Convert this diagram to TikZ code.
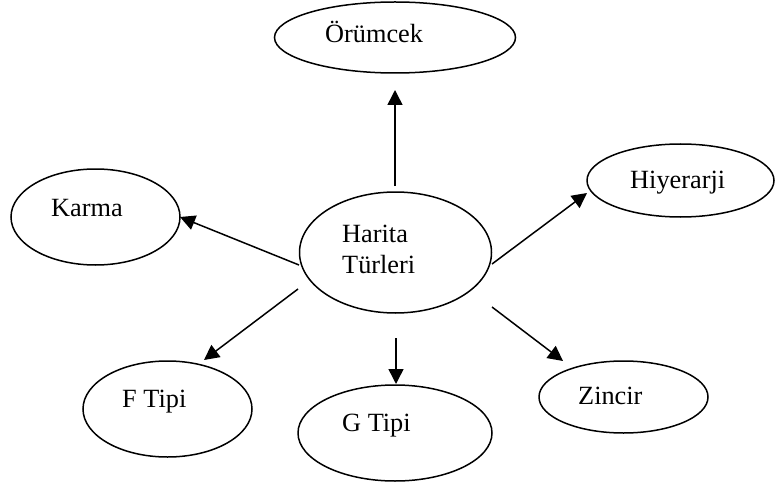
\documentclass[tikz,border=0pt]{standalone}
\usepackage{fontspec}
\setmainfont{Liberation Serif}
\usetikzlibrary{shapes.geometric,arrows.meta}
\begin{document}
\begin{tikzpicture}[x=1pt,y=-1pt,
  bubble/.style={draw,ellipse,line width=1.5pt,inner sep=0pt},
  caption/.style={anchor=base west,inner sep=0pt,align=left,
    font=\fontsize{26.3}{31}\selectfont},
  link/.style={line width=1.5pt,-{Triangle[length=15pt,width=15pt]}}]
\useasboundingbox (0,0) rectangle (775,489);

% ellipses
\node[bubble,minimum width=241pt,minimum height=71pt] (orum) at (395,37.5) {};
\node[bubble,minimum width=187pt,minimum height=73pt] (hiy) at (680.5,180.5) {};
\node[bubble,minimum width=169pt,minimum height=96pt] (kar) at (95.5,217) {};
\node[bubble,minimum width=192pt,minimum height=121pt] (har) at (395.5,252.5) {};
\node[bubble,minimum width=169pt,minimum height=96pt] (ftip) at (167.5,409) {};
\node[bubble,minimum width=194pt,minimum height=96pt] (gtip) at (395,433) {};
\node[bubble,minimum width=169pt,minimum height=72pt] (zin) at (623.5,397) {};

% labels (the base of a two-line label is its last line)
\node[caption] (torum) at (325,43) {Örümcek};
\node[caption] (thiy) at (630,188) {Hiyerarji};
\node[caption] (tkar) at (51,216) {Karma};
\node[caption] (thar) at (342,273) {Harita\\Türleri};
\node[caption] (tftip) at (122,407) {F Tipi};
\node[caption] (tgtip) at (342,431) {G Tipi};
\node[caption] (tzin) at (578,404) {Zincir};

% arrow end points
\coordinate (a1s) at (395,186);   \coordinate (a1e) at (395,90);
\coordinate (a2s) at (299,265);   \coordinate (a2e) at (180,217);
\coordinate (a3s) at (492,264);   \coordinate (a3e) at (587,193);
\coordinate (a4s) at (298,289);   \coordinate (a4e) at (204,360);
\coordinate (a5s) at (396,338);   \coordinate (a5e) at (396,384);
\coordinate (a6s) at (492,307);   \coordinate (a6e) at (563,361);

% arrows
\draw[link] (a1s) -- (a1e);
\draw[link] (a2s) -- (a2e);
\draw[link] (a3s) -- (a3e);
\draw[link] (a4s) -- (a4e);
\draw[link] (a5s) -- (a5e);
\draw[link] (a6s) -- (a6e);
\end{tikzpicture}
\end{document}
